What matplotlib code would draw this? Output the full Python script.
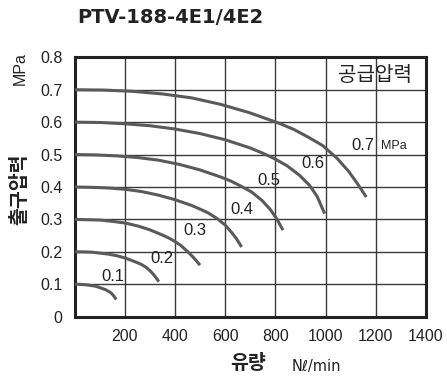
import matplotlib
matplotlib.use("Agg")
import matplotlib.pyplot as plt

# 공급압력별 유량-출구압력 곡선
supply = ["0.1", "0.2", "0.3", "0.4", "0.5", "0.6", "0.7"]

x01 = [0, 17, 33, 50, 66, 83, 99, 116, 124, 132, 140, 149, 155, 160, 165]
y01 = [0.100, 0.100, 0.099, 0.098, 0.096, 0.094, 0.090, 0.085, 0.083,
       0.079, 0.076, 0.070, 0.064, 0.059, 0.053]

x02 = [0, 34, 67, 101, 134, 168, 201, 235, 251, 268, 285, 302, 315, 325, 335]
y02 = [0.200, 0.200, 0.199, 0.196, 0.193, 0.188, 0.181, 0.171, 0.166,
       0.160, 0.152, 0.140, 0.129, 0.119, 0.108]

x03 = [0, 50, 100, 150, 200, 250, 299, 349, 374, 399, 424, 449, 469, 484, 499]
y03 = [0.300, 0.299, 0.298, 0.294, 0.289, 0.280, 0.268, 0.252, 0.243,
       0.232, 0.219, 0.201, 0.186, 0.173, 0.159]

x04 = [0, 67, 133, 200, 266, 333, 399, 466, 499, 532, 565, 599, 625, 645, 665]
y04 = [0.400, 0.399, 0.397, 0.393, 0.386, 0.375, 0.361, 0.343, 0.332,
       0.320, 0.304, 0.283, 0.260, 0.240, 0.215]

x05 = [0, 83, 166, 249, 332, 415, 498, 581, 623, 664, 706, 747, 780, 805, 830]
y05 = [0.500, 0.499, 0.496, 0.491, 0.483, 0.470, 0.453, 0.431, 0.418,
       0.402, 0.384, 0.358, 0.330, 0.302, 0.267]

x06 = [0, 100, 199, 299, 398, 498, 598, 697, 747, 797, 847, 896, 936, 966, 996]
y06 = [0.600, 0.599, 0.595, 0.589, 0.579, 0.565, 0.546, 0.521, 0.505,
       0.487, 0.465, 0.436, 0.405, 0.371, 0.318]

x07 = [0, 116, 232, 349, 465, 581, 697, 813, 872, 930, 988, 1046, 1092, 1127, 1162]
y07 = [0.700, 0.699, 0.695, 0.687, 0.675, 0.655, 0.629, 0.597, 0.578,
       0.554, 0.528, 0.488, 0.448, 0.410, 0.369]

curves = [(x01, y01), (x02, y02), (x03, y03), (x04, y04),
          (x05, y05), (x06, y06), (x07, y07)]

# 곡선 라벨 위치
lab_x = [152, 347, 479, 668, 773, 951, 1148]
lab_y = [0.125, 0.178, 0.267, 0.330, 0.421, 0.473, 0.528]

xticks = [200, 400, 600, 800, 1000, 1200, 1400]
yticks = [0, 0.1, 0.2, 0.3, 0.4, 0.5, 0.6, 0.7, 0.8]
ytick_labels = ["0", "0.1", "0.2", "0.3", "0.4", "0.5", "0.6", "0.7", "0.8"]

kr = ["Noto Sans CJK KR", "DejaVu Sans"]
num = "Liberation Sans"

fig = plt.figure(figsize=(4.47, 3.79), dpi=100)
ax = fig.add_axes([0.1673, 0.1644, 0.953 - 0.1673, 0.8488 - 0.1644])

for cx, cy in curves:
    ax.plot(cx, cy, color="#5a5a5a", lw=2.2, solid_capstyle="butt",
            solid_joinstyle="round", zorder=3)

for s, lx, ly in zip(supply, lab_x, lab_y):
    ax.text(lx, ly, s, ha="center", va="center", fontsize=12,
            family=num, color="#222222", zorder=4)
ax.text(1271, 0.525, "MPa", ha="center", va="center", fontsize=9,
        family=num, color="#222222")
ax.text(1345, 0.745, "공급압력", ha="right", va="center", fontsize=14.5,
        family=kr, color="#222222")

ax.set_xlim(0, 1400)
ax.set_ylim(0, 0.8)
ax.set_xticks(xticks)
ax.set_xticklabels([str(v) for v in xticks], family=num, fontsize=11.5)
ax.set_yticks(yticks)
ax.set_yticklabels(ytick_labels, family=num, fontsize=11.5)
ax.tick_params(length=0, pad=9, colors="#222222")
ax.grid(True, color="#3a3a3a", lw=1.0)
for sp in ax.spines.values():
    sp.set_linewidth(2.2)
    sp.set_color("#222222")

fig.text(0.172, 0.955, "PTV-188-4E1/4E2", fontsize=14, fontweight="bold",
         family="DejaVu Sans", ha="left", va="center", color="#222222")
fig.text(0.045, 0.82, "MPa", rotation=90, fontsize=11.5, family=num,
         ha="center", va="center", color="#222222")
fig.text(0.045, 0.50, "출구압력", rotation=90, fontsize=14, fontweight="bold",
         family=kr, ha="center", va="center", color="#222222")
fig.text(0.555, 0.042, "유량", fontsize=14, fontweight="bold", family=kr,
         ha="center", va="center", color="#222222")
fig.text(0.708, 0.033, "Nℓ/min", fontsize=10.5, family=["DejaVu Sans"],
         ha="center", va="center", color="#222222")

fig.savefig("out.png", dpi=100)
